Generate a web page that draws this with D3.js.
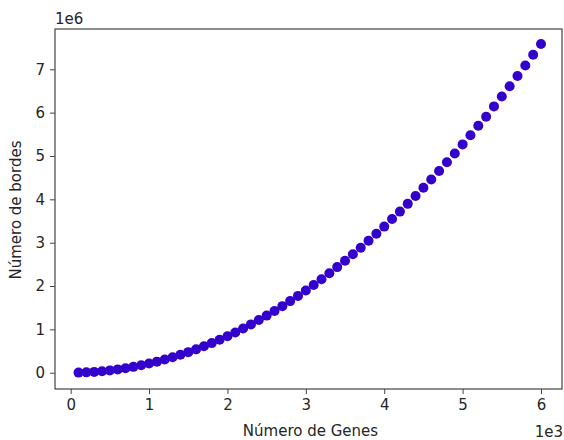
<!DOCTYPE html>
<html>
<head>
<meta charset="utf-8">
<script src="https://cdn.jsdelivr.net/npm/d3@7"></script>
<style>
  html, body { margin: 0; padding: 0; background: #fff; }
  svg { display: block; }
  text { font-family: "DejaVu Sans", sans-serif; fill: #262626; }
</style>
</head>
<body>
<svg id="chart" width="564" height="440"></svg>
<script>
// Number of genes (x) and number of edges (y)
const genes = [100,200,300,400,500,600,700,800,900,1000,
  1100,1200,1300,1400,1500,1600,1700,1800,1900,2000,
  2100,2200,2300,2400,2500,2600,2700,2800,2900,3000,
  3100,3200,3300,3400,3500,3600,3700,3800,3900,4000,
  4100,4200,4300,4400,4500,4600,4700,4800,4900,5000,
  5100,5200,5300,5400,5500,5600,5700,5800,5900,6000];
const edges = [2000,8000,19000,34000,53000,76000,103000,135000,171000,211000,
  255000,303000,356000,413000,474000,539000,609000,683000,761000,843000,
  929000,1020000,1115000,1214000,1317000,1424000,1536000,1652000,1772000,1896000,
  2025000,2158000,2295000,2436000,2581000,2731000,2885000,3043000,3205000,3371000,
  3545000,3717000,3896000,4079000,4267000,4458000,4654000,4855000,5059000,5268000,
  5480000,5697000,5905000,6144000,6374000,6608000,6846000,7088000,7334000,7585000];
const xTicks = [0,1000,2000,3000,4000,5000,6000];
const yTicks = [0,1e6,2e6,3e6,4e6,5e6,6e6,7e6];

const svg = d3.select("#chart");
const mLeft = 55, mRight = 562, mTop = 29, mBottom = 389;

const x = d3.scaleLinear().domain([-200, 6268]).range([mLeft, mRight]);
const y = d3.scaleLinear().domain([-376000, 7930000]).range([mBottom, mTop]);

// points
svg.append("g").selectAll("circle")
  .data(genes.map((g, i) => [g, edges[i]]))
  .join("circle")
  .attr("cx", d => x(d[0]))
  .attr("cy", d => y(d[1]))
  .attr("r", 5)
  .attr("fill", "#3300cc");

// axes
const xAxis = d3.axisBottom(x).tickValues(xTicks).tickFormat(d => d / 1000).tickSizeOuter(0).tickSize(5).tickPadding(5);
const yAxis = d3.axisLeft(y).tickValues(yTicks).tickFormat(d => d / 1e6).tickSizeOuter(0).tickSize(5).tickPadding(5);

const gx = svg.append("g").attr("transform", `translate(0,${mBottom})`).call(xAxis);
const gy = svg.append("g").attr("transform", `translate(${mLeft},0)`).call(yAxis);
[gx, gy].forEach(g => {
  g.select(".domain").remove();
  g.selectAll(".tick line").attr("stroke", "#444").attr("stroke-width", 1);
  g.selectAll(".tick text").style("font-size", "15px").attr("fill", "#262626")
    .style("font-family", "'DejaVu Sans', sans-serif");
});

// frame
svg.append("rect")
  .attr("x", mLeft).attr("y", mTop)
  .attr("width", mRight - mLeft).attr("height", mBottom - mTop)
  .attr("fill", "none").attr("stroke", "#444").attr("stroke-width", 1.2);

// labels
svg.append("text").attr("x", (mLeft + mRight) / 2 + 2).attr("y", 436)
  .attr("text-anchor", "middle").style("font-size", "15px").text("Número de Genes");
svg.append("text").attr("transform", "translate(21,210) rotate(-90)")
  .attr("text-anchor", "middle").style("font-size", "15px").text("Número de bordes");
svg.append("text").attr("x", 55).attr("y", 24).style("font-size", "15px").text("1e6");
svg.append("text").attr("x", 563).attr("y", 437).attr("text-anchor", "end").style("font-size", "15px").text("1e3");
</script>
</body>
</html>
